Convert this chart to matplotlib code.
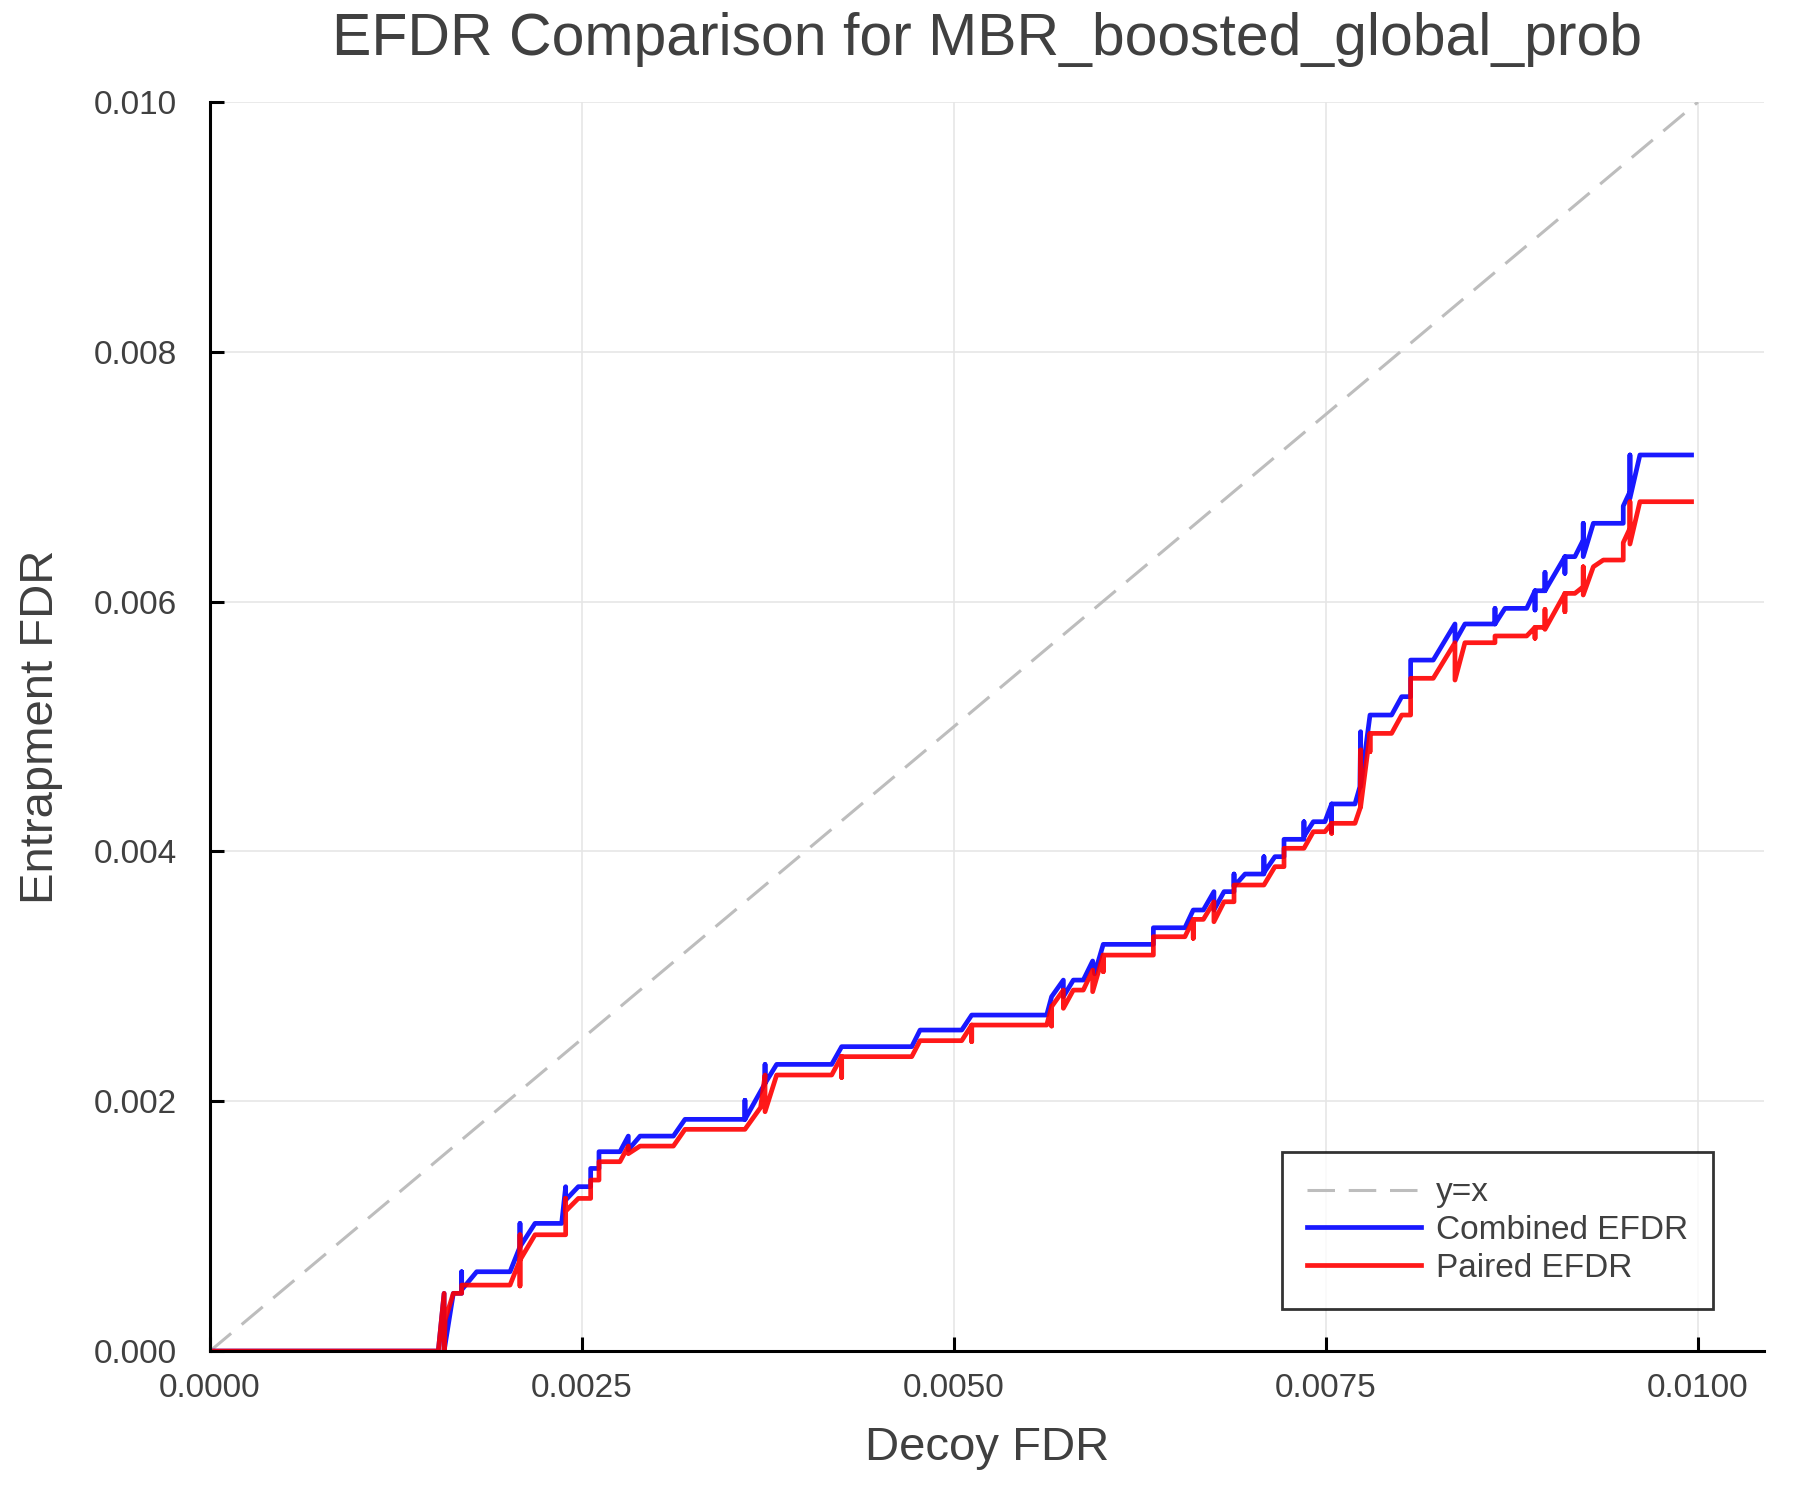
import matplotlib
matplotlib.use("Agg")
import matplotlib.pyplot as plt

plt.rcParams['font.family'] = ['Liberation Sans', 'DejaVu Sans']

# reference line y = x
ref_x = [0.0, 0.01]
ref_y = [0.0, 0.01]

# Combined EFDR (blue), vertices
combined_x = [
    0.0, 0.001534, 0.001573, 0.001573, 0.001635, 0.001691, 0.001691, 0.001691, 0.001792,
    0.002016, 0.002083, 0.002083, 0.002083, 0.002184, 0.002363, 0.00239, 0.00239, 0.002475,
    0.002558, 0.002558, 0.002614, 0.002614, 0.002755, 0.002811, 0.002811, 0.00289, 0.003114,
    0.003192, 0.003595, 0.003595, 0.003595, 0.00373, 0.00373, 0.00373, 0.003808, 0.004178,
    0.004245, 0.004716, 0.004772, 0.005052, 0.005119, 0.005623, 0.005656, 0.005735, 0.005735,
    0.005802, 0.005869, 0.005932, 0.005945, 0.006003, 0.00634, 0.00634, 0.006552, 0.006608,
    0.006676, 0.006747, 0.006747, 0.006815, 0.006882, 0.006882, 0.006882, 0.006956, 0.007083,
    0.007083, 0.007083, 0.007157, 0.007218, 0.007218, 0.007352, 0.007352, 0.007352, 0.007415,
    0.007493, 0.007538, 0.007538, 0.007538, 0.007695, 0.007728, 0.007733, 0.007733, 0.007796,
    0.007941, 0.008009, 0.008069, 0.008069, 0.008221, 0.008367, 0.008367, 0.008434, 0.008636,
    0.008636, 0.008636, 0.008703, 0.008849, 0.008905, 0.008905, 0.008905, 0.008972, 0.008972,
    0.008972, 0.009106, 0.009106, 0.009106, 0.009173, 0.009229, 0.009229, 0.009229, 0.009297,
    0.009498, 0.009498, 0.009543, 0.009543, 0.009543, 0.00961, 0.009957,
]
combined_y = [
    0.0, 0.0, 0.000462, 0.0, 0.000462, 0.000462, 0.000635, 0.00049, 0.000635,
    0.000635, 0.000835, 0.001022, 0.000835, 0.001022, 0.001022, 0.001316, 0.001209, 0.001316,
    0.001316, 0.001462, 0.001462, 0.001596, 0.001596, 0.001721, 0.00161, 0.001721, 0.001721,
    0.001855, 0.001855, 0.002008, 0.001855, 0.002143, 0.002295, 0.002143, 0.002295, 0.002295,
    0.002437, 0.002437, 0.00257, 0.00257, 0.00269, 0.00269, 0.002837, 0.00297, 0.002837,
    0.00297, 0.00297, 0.003123, 0.00302, 0.003256, 0.003256, 0.003389, 0.003389, 0.003531,
    0.003531, 0.003678, 0.003531, 0.003678, 0.003678, 0.003819, 0.00372, 0.003819, 0.003819,
    0.003958, 0.00383, 0.003958, 0.003958, 0.004097, 0.004097, 0.004238, 0.00412, 0.004238,
    0.004238, 0.00438, 0.004158, 0.00438, 0.00438, 0.004518, 0.004959, 0.004518, 0.005092,
    0.005092, 0.005239, 0.005239, 0.005532, 0.005532, 0.005821, 0.005679, 0.005821, 0.005821,
    0.005946, 0.005821, 0.005946, 0.005946, 0.006087, 0.005933, 0.006087, 0.006087, 0.006234,
    0.006087, 0.00636, 0.006226, 0.00636, 0.00636, 0.006493, 0.006627, 0.00636, 0.006627,
    0.006627, 0.006765, 0.00688, 0.007174, 0.006827, 0.007174, 0.007174,
]

# Paired EFDR (red)
paired_x = [
    0.0, 0.001534, 0.001573, 0.001573, 0.00158, 0.001635, 0.001691, 0.001691, 0.001792,
    0.002016, 0.002083, 0.002083, 0.002083, 0.002083, 0.002184, 0.00239, 0.00239, 0.00239,
    0.002475, 0.002558, 0.002558, 0.002614, 0.002614, 0.002755, 0.002811, 0.002811, 0.00289,
    0.003114, 0.003192, 0.003595, 0.0037, 0.00373, 0.00373, 0.003808, 0.004178, 0.004245,
    0.004245, 0.004245, 0.004716, 0.004772, 0.005052, 0.005119, 0.005119, 0.005119, 0.005623,
    0.005656, 0.005656, 0.005656, 0.005735, 0.005735, 0.005802, 0.005869, 0.005932, 0.005932,
    0.006003, 0.006003, 0.006003, 0.00634, 0.00634, 0.006552, 0.006608, 0.006608, 0.006608,
    0.006676, 0.006747, 0.006747, 0.006815, 0.006882, 0.006882, 0.007083, 0.007157, 0.007218,
    0.007218, 0.007352, 0.007415, 0.007493, 0.007538, 0.007538, 0.007538, 0.007695, 0.007733,
    0.007733, 0.007733, 0.007796, 0.007796, 0.007796, 0.007941, 0.008009, 0.008069, 0.008069,
    0.008221, 0.008367, 0.008367, 0.008434, 0.008636, 0.008636, 0.008849, 0.008905, 0.008905,
    0.008905, 0.008972, 0.008972, 0.008972, 0.009106, 0.009106, 0.009106, 0.009173, 0.009229,
    0.009229, 0.009229, 0.009297, 0.009364, 0.009498, 0.009498, 0.009543, 0.009543, 0.009543,
    0.00961, 0.009957,
]
paired_y = [
    0.0, 0.0, 0.000462, 0.0, 0.00025, 0.000462, 0.000462, 0.000528, 0.000528,
    0.000528, 0.000728, 0.000931, 0.000521, 0.000728, 0.000931, 0.000931, 0.001222, 0.00112,
    0.001222, 0.001222, 0.001369, 0.001369, 0.001516, 0.001516, 0.001641, 0.00158, 0.001641,
    0.001641, 0.001775, 0.001775, 0.00195, 0.00221, 0.001916, 0.00221, 0.00221, 0.00236,
    0.00219, 0.002357, 0.002357, 0.002485, 0.002485, 0.00261, 0.002477, 0.00261, 0.00261,
    0.002757, 0.002602, 0.002757, 0.00289, 0.002744, 0.00289, 0.00289, 0.00305, 0.002877,
    0.00317, 0.003037, 0.00317, 0.00317, 0.003317, 0.003317, 0.003456, 0.003304, 0.003456,
    0.003456, 0.003597, 0.003437, 0.003597, 0.003597, 0.003731, 0.003731, 0.003878, 0.003878,
    0.004025, 0.004025, 0.004158, 0.004158, 0.004225, 0.004145, 0.004225, 0.004225, 0.004358,
    0.004812, 0.004358, 0.004945, 0.004798, 0.004945, 0.004945, 0.005092, 0.005092, 0.005386,
    0.005386, 0.005671, 0.005372, 0.005671, 0.005671, 0.005725, 0.005725, 0.005794, 0.005706,
    0.005794, 0.005794, 0.005938, 0.005778, 0.006066, 0.005919, 0.006066, 0.006066, 0.006119,
    0.006279, 0.006053, 0.006279, 0.006333, 0.006333, 0.006472, 0.006587, 0.0068, 0.006461,
    0.0068, 0.0068,
]

xticks = [0.0, 0.0025, 0.005, 0.0075, 0.01]
xtick_labels = ["0.0000", "0.0025", "0.0050", "0.0075", "0.0100"]
yticks = [0.0, 0.002, 0.004, 0.006, 0.008, 0.01]
ytick_labels = ["0.000", "0.002", "0.004", "0.006", "0.008", "0.010"]

text_col = '#404040'

fig = plt.figure(figsize=(9, 7.5), dpi=200)
ax = fig.add_axes([0.1167, 0.0993, 0.8633, 0.8327])

ax.plot(ref_x, ref_y, color='#bdbdbd', lw=1.1, ls=(0, (9, 4.5)), label='y=x')
ax.plot(combined_x, combined_y, color='blue', lw=1.7, alpha=0.9, label='Combined EFDR')
ax.plot(paired_x, paired_y, color='red', lw=1.7, alpha=0.9, label='Paired EFDR')

ax.set_xlim(0, 0.010444)
ax.set_ylim(0, 0.01)
ax.set_xticks(xticks)
ax.set_xticklabels(xtick_labels)
ax.set_yticks(yticks)
ax.set_yticklabels(ytick_labels)

ax.grid(True, color='#e6e6e6', lw=0.6)
ax.set_axisbelow(True)
for s in ['top', 'right']:
    ax.spines[s].set_visible(False)
for s in ['left', 'bottom']:
    ax.spines[s].set_linewidth(1.1)
    ax.spines[s].set_color('black')
ax.tick_params(direction='in', length=5, width=1.1, colors='black',
               labelcolor=text_col, labelsize=12)
ax.tick_params(axis='x', pad=8)
ax.tick_params(axis='y', pad=12)

ax.set_title('EFDR Comparison for MBR_boosted_global_prob', fontsize=21.2,
             color=text_col, pad=17)
ax.set_xlabel('Decoy FDR', fontsize=17, color=text_col, labelpad=8)
ax.set_ylabel('Entrapment FDR', fontsize=17, color=text_col, labelpad=11)

leg = ax.legend(loc='lower right', bbox_to_anchor=(0.967, 0.034), fontsize=12,
                frameon=True, fancybox=False, handlelength=3.4, labelspacing=0.2,
                borderpad=0.75, handletextpad=0.45, borderaxespad=0)
leg.get_frame().set_edgecolor('black')
leg.get_frame().set_linewidth(1.0)
for t in leg.get_texts():
    t.set_color(text_col)

fig.savefig('out.png', dpi=200)
